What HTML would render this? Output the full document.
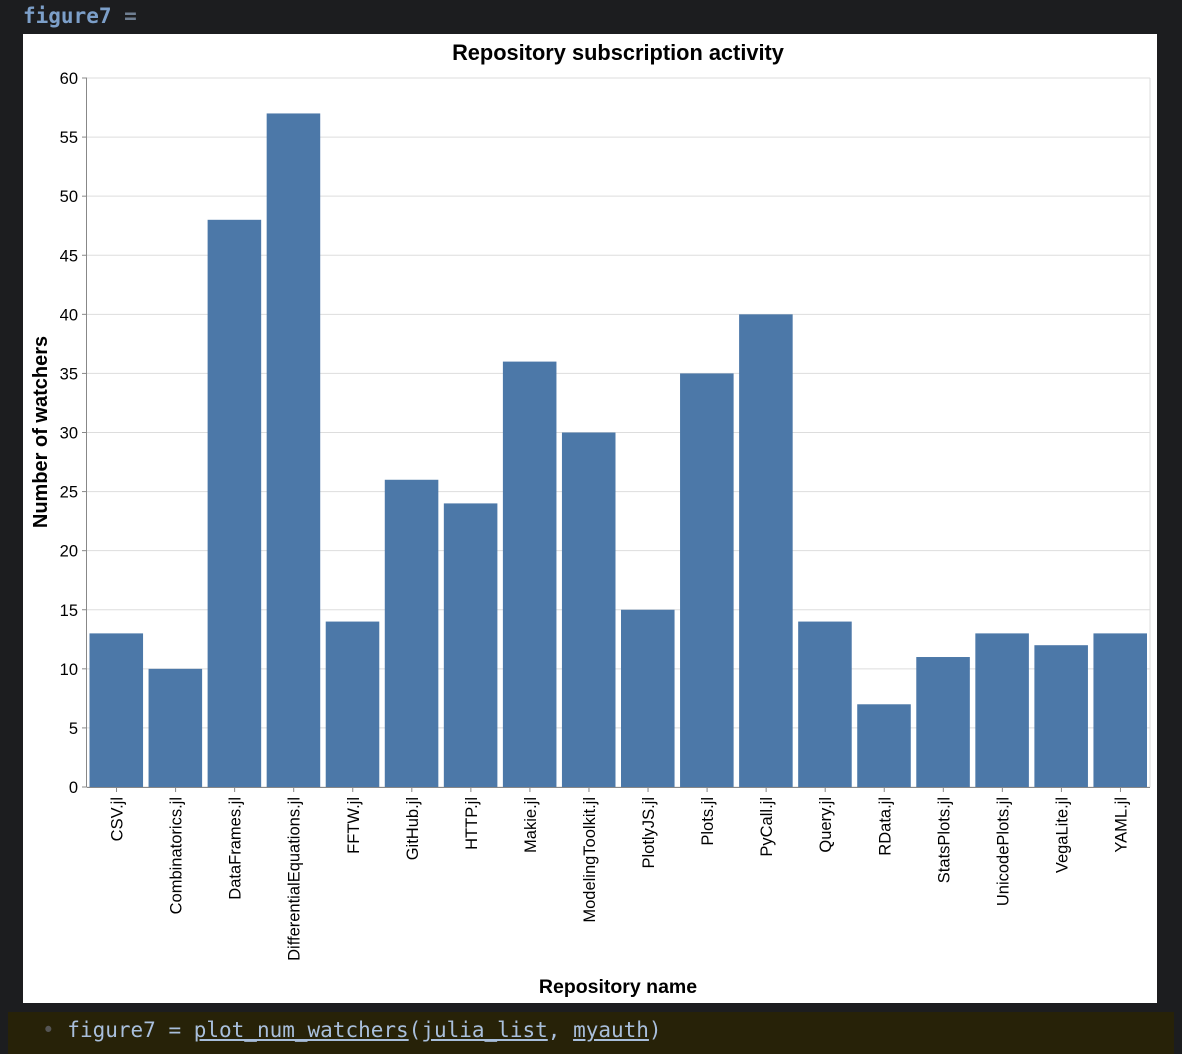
<!DOCTYPE html>
<html><head><meta charset="utf-8"><style>
body{margin:0;width:1182px;height:1054px;background:#1c1d1f;position:relative;overflow:hidden;font-family:"Liberation Sans",sans-serif}
#hdr{position:absolute;left:23px;top:4px;font-family:"DejaVu Sans Mono","Liberation Mono",monospace;font-size:21px;font-weight:600;color:#7c9fc9}
#panel{position:absolute;left:23px;top:34px;width:1134px;height:969px;background:#fff}
#foot{position:absolute;left:8px;top:1012px;width:1166px;height:42px;background:#272208;font-family:"DejaVu Sans Mono","Liberation Mono",monospace;font-size:21px;color:#a9bfdc}
#foot span.u{text-decoration:underline;text-decoration-color:#a9bfdc}
</style></head><body>
<div id="hdr">figure7 <span style="color:#6f7f92">=</span></div>
<div id="panel">
<svg id="chart" width="1134" height="969"></svg>
</div>
<div id="foot"><div style="position:absolute;left:34px;top:6px;white-space:pre"><span style="color:#555">•</span> figure7 = <span class="u">plot_num_watchers</span>(<span class="u">julia_list</span>, <span class="u">myauth</span>)</div></div>
<script>
const categories=["CSV.jl","Combinatorics.jl","DataFrames.jl","DifferentialEquations.jl","FFTW.jl","GitHub.jl","HTTP.jl","Makie.jl","ModelingToolkit.jl","PlotlyJS.jl","Plots.jl","PyCall.jl","Query.jl","RData.jl","StatsPlots.jl","UnicodePlots.jl","VegaLite.jl","YAML.jl"];
const watchers=[13,10,48,57,14,26,24,36,30,15,35,40,14,7,11,13,12,13];
const yTicks=[0,5,10,15,20,25,30,35,40,45,50,55,60];
const NS="http://www.w3.org/2000/svg";
const svg=document.getElementById('chart');
const X0=64,X1=1127,Y0=753,Y1=44;
const band=(X1-X0)/categories.length;
const xs=i=>X0+i*band;
const ys=v=>Y0-(v/60)*(Y0-Y1);
function mk(t,a,p){const e=document.createElementNS(NS,t);for(const k in a)e.setAttribute(k,a[k]);(p||svg).appendChild(e);return e;}
yTicks.forEach(v=>{
 const g=mk('line',{x1:X0,x2:X1,y1:ys(v),y2:ys(v),stroke:'#ddd','stroke-width':1});
 
 
 mk('line',{x1:X0-5,x2:X0,y1:ys(v),y2:ys(v),stroke:'#888'});
 const t=mk('text',{x:X0-9,y:ys(v)+6,'text-anchor':'end','font-size':16.5,fill:'#000'});
 t.textContent=v;
 
 
});
mk('line',{x1:X1,x2:X1,y1:Y1,y2:Y0,stroke:'#ddd'});
watchers.forEach((v,i)=>{
 const r=mk('rect',{x:xs(i)+2.5,y:ys(v),width:band-5.5,height:Y0-ys(v),fill:'#4c78a8'});
 
 
 const cx=xs(i)+band/2;
 mk('line',{x1:cx,x2:cx,y1:Y0,y2:Y0+5,stroke:'#888'});
 const t=mk('text',{transform:`translate(${cx+6},${Y0+10}) rotate(-90)`,'text-anchor':'end','font-size':16.5,fill:'#000'});
 t.textContent=categories[i];
 
 
});
mk('line',{x1:X0,x2:X1,y1:Y0+0.5,y2:Y0+0.5,stroke:'#888'});
mk('line',{x1:X0-0.5,x2:X0-0.5,y1:Y1,y2:Y0,stroke:'#888'});
let t=mk('text',{x:595,y:26,'text-anchor':'middle','font-size':21.8,'font-weight':'bold'});t.textContent='Repository subscription activity';


t=mk('text',{x:595,y:959,'text-anchor':'middle','font-size':19.5,'font-weight':'bold'});t.textContent='Repository name';


t=mk('text',{transform:'translate(24,398) rotate(-90)','text-anchor':'middle','font-size':20,'font-weight':'bold'});t.textContent='Number of watchers';


</script>
</body></html>
